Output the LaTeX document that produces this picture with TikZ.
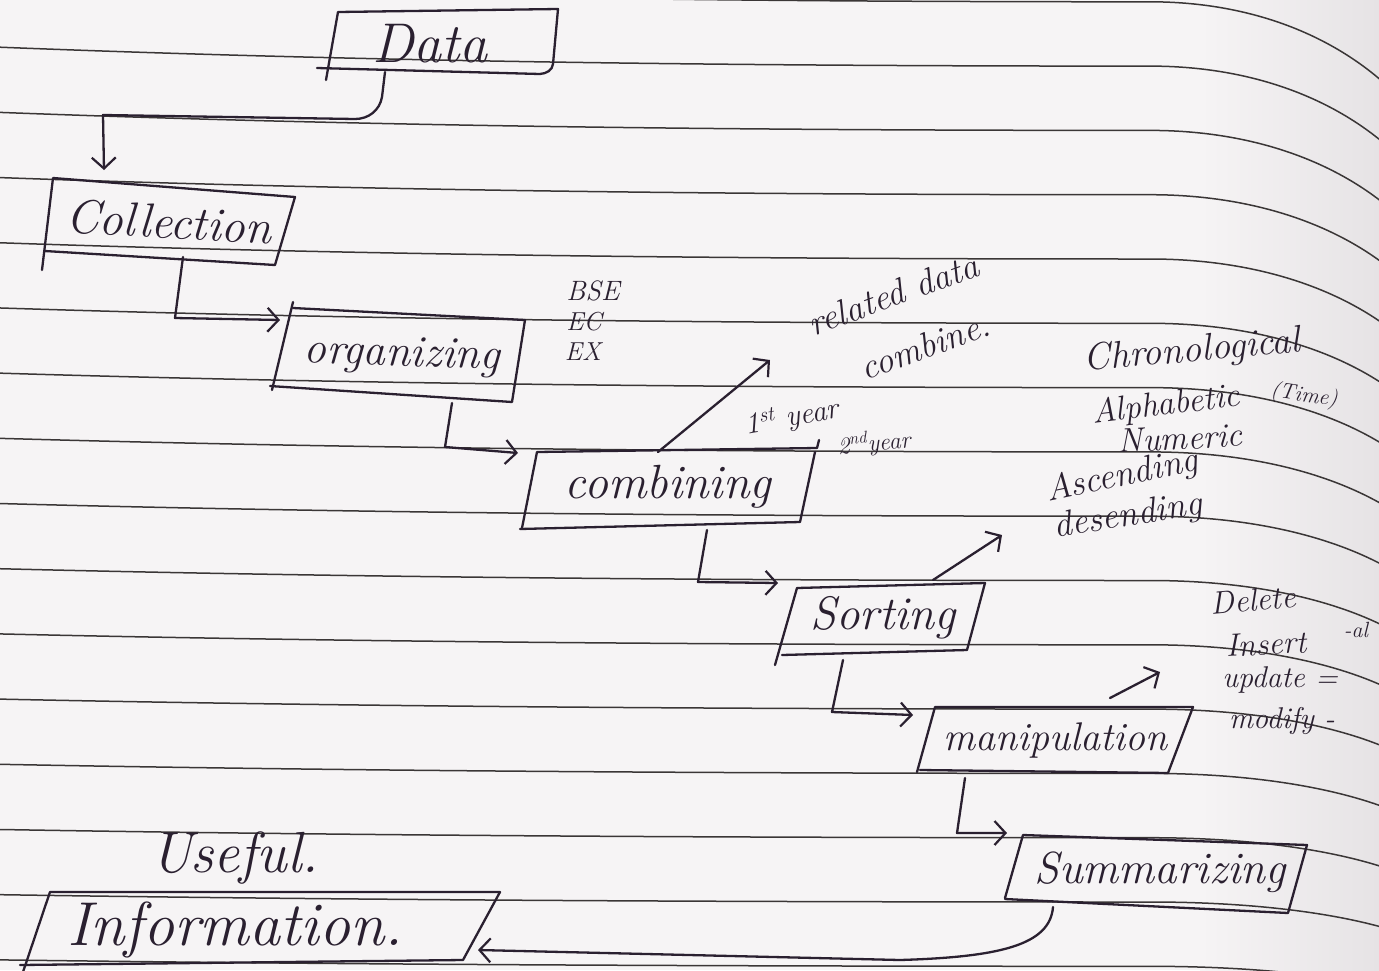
\documentclass[tikz,border=0pt]{standalone}
\usetikzlibrary{arrows.meta}
\definecolor{paper}{HTML}{F6F4F5}
\definecolor{paperdark}{HTML}{E6E3E5}
\definecolor{rule}{HTML}{3A3636}
\definecolor{ink}{HTML}{2A2030}
\tikzset{
  hw/.style={font=\fontsize{#1}{#1}\selectfont\itshape, text=ink, inner sep=0pt},
  inkline/.style={draw=ink, line width=2.3pt, line cap=round, line join=round},
  flow/.style={inkline, -{Straight Barb[length=11pt,width=24pt,line width=2.2pt]}},
  ruling/.style={draw=rule, line width=1.5pt},
}
\begin{document}
\begin{tikzpicture}[x=1pt,y=-1pt]
\useasboundingbox (0,0) rectangle (1379,970);
% paper, darkening slightly towards the binding
\fill[paper] (0,0) rectangle (1379,970);
\shade[left color=paper, right color=paperdark] (1200,0) rectangle (1379,970);

% ruled lines, bending down near the right edge
\foreach \k in {-1,...,14}{
  \pgfmathsetmacro\ya{47+65.2*\k}
  \pgfmathsetmacro\yb{\ya+20-0.9*(\k+1)}
  \pgfmathsetmacro\ym{\ya+0.85*(\yb-\ya)}
  \pgfmathsetmacro\dd{82-4*(\k+1)}
  \pgfmathsetmacro\yc{\yb+0.4*\dd}
  \pgfmathsetmacro\ye{\yb+\dd}
  \draw[ruling] (-5,\ya) .. controls (400,\ym) and (800,\yb) .. (1150,\yb)
                        .. controls (1250,\yb) and (1330,\yc) .. (1385,\ye);
}

% ---------- labels ----------
\node[hw=56] (data) at (430,44) {Data};
\node[hw=48,rotate=-3] (collection) at (169,222) {Collection};
\node[hw=45,rotate=-2] (organizing) at (402,356) {organizing};
\node[hw=28] (bse) at (593,291) {BSE};
\node[hw=26] (ec) at (584,322) {EC};
\node[hw=26] (ex) at (583,352) {EX};
\node[hw=48] (combining) at (668,487) {combining};
\node[hw=47] (sorting) at (883,618) {Sorting};
\node[hw=40] (manip) at (1055,740) {manipulation};
\node[hw=45] (summ) at (1160,872) {Summarizing};
\node[hw=62] (info) at (235,930) {Information.};
\node[hw=58] (useful) at (235,858) {Useful.};

\node[hw=36,rotate=20] (related) at (893,294) {related data};
\node[hw=36,rotate=20] (combine) at (925,346) {combine.};
\node[hw=30,rotate=10] (first) at (792,418) {1\textsuperscript{st} year};
\node[hw=24,rotate=5] (second) at (874,443) {2\textsuperscript{nd}year};

\node[hw=38,rotate=5] (chrono) at (1192,352) {Chronological};
\node[hw=22,rotate=-8] (time) at (1304,396) {(Time)};
\node[hw=34,rotate=7] (alpha) at (1166,406) {Alphabetic};
\node[hw=34,rotate=3] (numeric) at (1180,438) {Numeric};
\node[hw=36,rotate=12] (asc) at (1122,477) {Ascending};
\node[hw=36,rotate=9] (desc) at (1128,517) {desending};

\node[hw=32,rotate=5] (delete) at (1253,600) {Delete};
\node[hw=32,rotate=3] (insert) at (1266,644) {Insert};
\node[hw=22] (al) at (1356,630) {-al};
\node[hw=30] (update) at (1280,680) {update =};
\node[hw=30] (modify) at (1282,721) {modify -};

% ---------- hand-drawn boxes ----------
\draw[inkline] (326,80) -- (338,12) -- (558,9) -- (553,64) to[out=-95,in=5] (540,74) -- (317,68);
\draw[inkline] (42,270) -- (53,178) -- (295,197) -- (275,265) -- (45,251);
\draw[inkline] (272,390) -- (293,302);
\draw[inkline] (293,308) -- (525,320) -- (512,402) -- (270,386);
\draw[inkline] (522,528) -- (537,452) -- (817,448) -- (819,440);
\draw[inkline] (815,452) -- (800,522) -- (520,529);
\draw[inkline] (775,665) -- (797,588) -- (985,583) -- (967,650) -- (782,655);
\draw[inkline] (917,772) -- (935,707) -- (1193,707) -- (1168,773) -- (920,770);
\draw[inkline] (1005,898) -- (1023,835) -- (1307,845) -- (1288,913) -- (1005,899);
\draw[inkline] (22,975) -- (50,892) -- (500,892) -- (463,960) -- (20,965);

% ---------- connectors ----------
\coordinate (data-out) at (385,72);
\coordinate (col-in)   at (104,170);
\coordinate (col-out)  at (183,257);
\coordinate (org-in)   at (280,320);
\coordinate (org-out)  at (452,403);
\coordinate (comb-in)  at (518,453);
\coordinate (comb-top) at (658,452);
\coordinate (rel-in)   at (770,360);
\coordinate (comb-out) at (707,530);
\coordinate (sort-in)  at (778,583);
\coordinate (sort-top) at (933,580);
\coordinate (asc-in)   at (1002,535);
\coordinate (sort-out) at (843,660);
\coordinate (man-in)   at (913,715);
\coordinate (man-top)  at (1110,698);
\coordinate (del-in)   at (1160,672);
\coordinate (man-out)  at (965,778);
\coordinate (sum-in)   at (1007,833);
\coordinate (sum-out)  at (1053,907);
\coordinate (info-in)  at (478,950);

\draw[flow] (data-out) -- (382,97) to[out=-100,in=0] (355,119) -- (103,115) -- (col-in);
\draw[flow] (col-out) -- (175,318) -- (org-in);
\draw[flow] (org-out) -- (445,447) -- (comb-in);
\draw[flow] (comb-top) -- (rel-in);
\draw[flow] (comb-out) -- (698,582) -- (sort-in);
\draw[flow] (sort-top) -- (asc-in);
\draw[flow] (sort-out) -- (832,712) -- (man-in);
\draw[flow] (man-top) -- (del-in);
\draw[flow] (man-out) -- (957,833) -- (sum-in);
\draw[flow] (sum-out) .. controls (1050,945) and (1000,957) .. (900,960) -- (info-in);
\end{tikzpicture}
\end{document}
